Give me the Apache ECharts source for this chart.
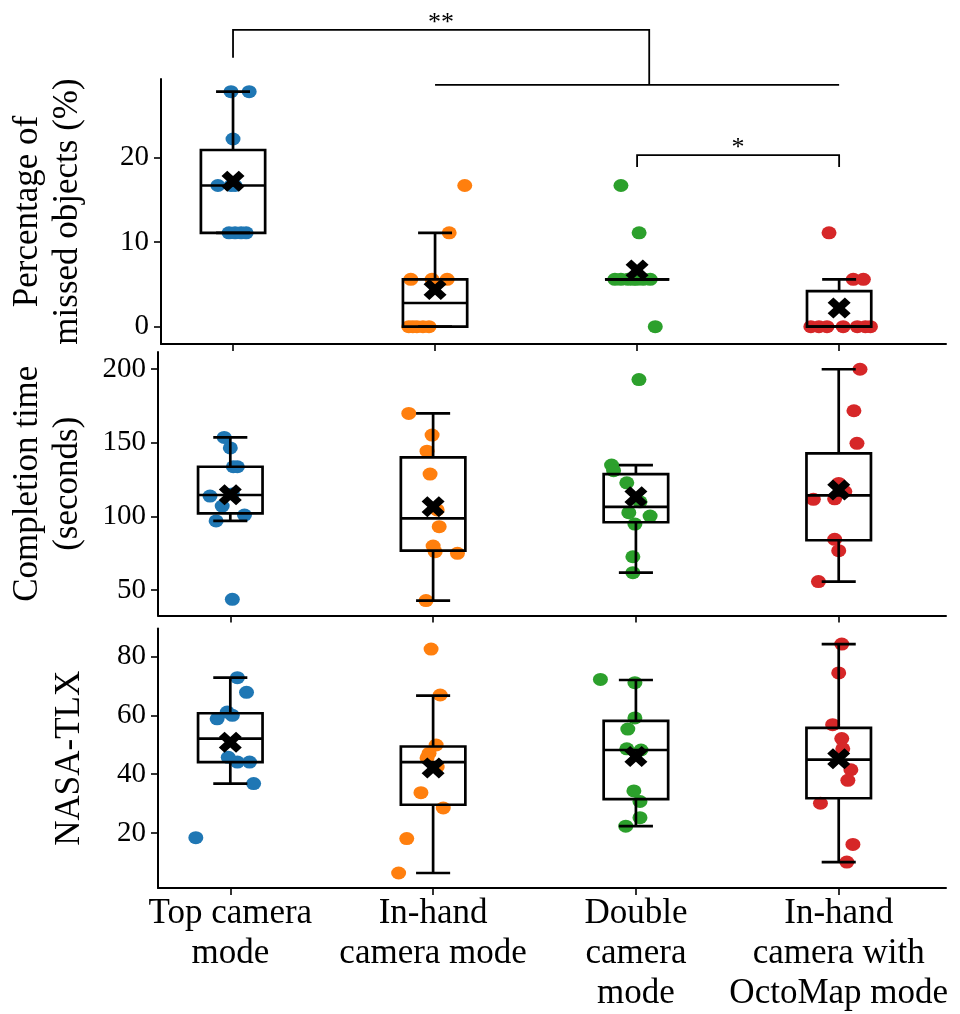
<!DOCTYPE html>
<html>
<head>
<meta charset="utf-8">
<script src="https://cdn.jsdelivr.net/npm/echarts@6/dist/echarts.min.js"></script>
<style>
  html, body { margin: 0; padding: 0; background: #fff; }
  #main { width: 960px; height: 1014px; }
</style>
</head>
<body>
<div id="main"></div>
<script>
// modes on the x axis
var categories = ['Top camera\nmode', 'In-hand\ncamera mode', 'Double\ncamera\nmode', 'In-hand\ncamera with\nOctoMap mode'];
var colors = ['#1f77b4', '#ff7f0e', '#2ca02c', '#d62728'];

// panel 1: percentage of missed objects (%)
var missedVals = [
  [27.8, 27.8, 22.2, 16.7, 16.7, 16.7, 11.1, 11.1, 11.1, 11.1],
  [16.7, 11.1, 5.6, 5.6, 5.6, 0, 0, 0, 0, 0],
  [16.7, 11.1, 5.6, 5.6, 5.6, 5.6, 5.6, 5.6, 5.6, 0],
  [11.1, 5.6, 5.6, 0, 0, 0, 0, 0, 0, 0]
];
var missedJitter = [
  [-0.01, 0.08, 0, -0.075, -0.01, 0.01, -0.02, 0.01, 0.04, 0.065],
  [0.147, 0.07, -0.12, -0.015, 0.06, -0.13, -0.11, -0.09, -0.06, -0.03],
  [-0.08, 0.01, -0.11, -0.08, -0.045, -0.02, 0, 0.03, 0.065, 0.09],
  [-0.05, 0.07, 0.12, -0.14, -0.1, -0.06, 0.02, 0.09, 0.13, 0.155]
];
// [lower whisker, Q1, median, Q3, upper whisker]
var missedBox = [
  [11.1, 11.1, 16.7, 20.9, 27.8],
  [0, 0, 2.8, 5.6, 11.1],
  [5.6, 5.6, 5.6, 5.6, 5.6],
  [0, 0, 0, 4.2, 5.6]
];
var missedMean = [17.2, 4.4, 6.7, 2.2];
var missedTicks = [0, 10, 20];

// panel 2: completion time (seconds)
var timeVals = [
  [153.7, 146.6, 133.8, 133.8, 113.9, 115.3, 107.1, 101, 97, 43.8],
  [170, 155.3, 144.4, 128.8, 104.5, 93.1, 80, 76.1, 75, 42.9],
  [193, 134.9, 131.1, 122.9, 110, 102.6, 100.3, 94.9, 72.7, 61.9],
  [200, 171.8, 149.7, 122.5, 117, 112, 111.7, 84.5, 76.8, 55.8]
];
var timeJitter = [
  [-0.03, 0, 0.015, 0.035, -0.1, 0.01, -0.04, 0.07, -0.07, 0.01],
  [-0.12, -0.005, -0.03, -0.015, 0.02, 0.03, 0, 0.01, 0.12, -0.035],
  [0.015, -0.12, -0.11, -0.045, 0.02, -0.035, 0.07, -0.005, -0.015, -0.015],
  [0.105, 0.075, 0.09, 0, 0.03, -0.02, -0.125, -0.02, 0, -0.1]
];
var timeBox = [
  [97, 102.2, 114.6, 133.8, 153.7],
  [42.9, 76.8, 98.8, 140.2, 170],
  [61.9, 96.1, 106.6, 128.8, 134.9],
  [55.8, 83.9, 114.4, 142.9, 200]
];
var timeMean = [114.8, 106.6, 113.4, 118];
var timeTicks = [50, 100, 150, 200];

// panel 3: NASA-TLX
var tlxVals = [
  [72.8, 67.8, 61.1, 60, 58.8, 45.7, 44.1, 44.1, 36.8, 18.4],
  [82.5, 66.9, 49.9, 47.1, 45.5, 42.4, 33.7, 28.5, 18.1, 6.4],
  [72.2, 71.1, 59.1, 55.3, 48.6, 48.2, 34.3, 30.7, 25.2, 22.3],
  [84.2, 74.4, 56.8, 52.1, 48.6, 41.5, 37.9, 30.1, 16.1, 10.1]
];
var tlxJitter = [
  [0.035, 0.08, -0.015, 0.01, -0.065, -0.01, 0.035, 0.095, 0.115, -0.17],
  [-0.01, 0.035, 0.015, -0.02, -0.03, 0.02, -0.06, 0.05, -0.13, -0.17],
  [-0.175, -0.005, -0.005, -0.04, -0.045, 0.025, -0.01, 0.02, 0.02, -0.05],
  [0.015, 0, -0.03, 0.015, 0.02, 0.06, 0.045, -0.09, 0.07, 0.04]
];
var tlxBox = [
  [36.8, 44.1, 52.1, 60.7, 72.8],
  [6.4, 29.6, 44.1, 49.4, 66.7],
  [22.3, 31.5, 48.2, 58.1, 72],
  [10.1, 31.8, 44.9, 55.7, 84.2]
];
var tlxMean = [50.8, 42.1, 46, 45.2];
var tlxTicks = [20, 40, 60, 80];

// significance brackets on panel 1: [x left, x right, y top, y left leg end, y right leg end, text]
var brackets = [
  [0, 2.06, 35.1, 31.8, 28.6, '**'],
  [1, 3, 28.6, 28.6, 28.6, ''],
  [2, 3, 20.3, 18.9, 18.9, '*']
];

var FONT = "'Liberation Serif', 'Times New Roman', serif";
var BOX_W = 0.318;
var CAP_W = 0.168;
// filled "X" like matplotlib's mean marker
var MEAN_SYMBOL = 'path://M2.5,0 L5,2.5 L7.5,0 L10,2.5 L7.5,5 L10,7.5 L7.5,10 L5,7.5 L2.5,10 L0,7.5 L2.5,5 L0,2.5 Z';

var chart = echarts.init(document.getElementById('main'), null, { renderer: 'canvas' });

var panels = [
  { vals: missedVals, jitter: missedJitter, box: missedBox, mean: missedMean, ticks: missedTicks,
    min: -2.05, max: 29.3, top: 79, height: 265, name: 'Percentage of\nmissed objects (%)', gap: 73 },
  { vals: timeVals, jitter: timeJitter, box: timeBox, mean: timeMean, ticks: timeTicks,
    min: 32.8, max: 211.7, top: 352, height: 263.5, name: 'Completion time\n(seconds)', gap: 70 },
  { vals: tlxVals, jitter: tlxJitter, box: tlxBox, mean: tlxMean, ticks: tlxTicks,
    min: 1.3, max: 89.5, top: 628.5, height: 263.3, name: 'NASA-TLX', gap: 68 }
];

function renderBox(params, api) {
  var x = api.value(0);
  var lo = api.coord([x, api.value(1)]);
  var q1 = api.coord([x, api.value(2)]);
  var md = api.coord([x, api.value(3)]);
  var q3 = api.coord([x, api.value(4)]);
  var hi = api.coord([x, api.value(5)]);
  var hb = api.size([BOX_W, 0])[0] / 2;
  var hc = api.size([CAP_W, 0])[0] / 2;
  var cx = lo[0];
  var st = { stroke: '#000', lineWidth: 2.7, fill: null };
  function line(x1, y1, x2, y2) {
    return { type: 'line', shape: { x1: x1, y1: y1, x2: x2, y2: y2 }, style: st };
  }
  return {
    type: 'group',
    children: [
      line(cx, q3[1], cx, hi[1]),
      line(cx, q1[1], cx, lo[1]),
      line(cx - hc, hi[1], cx + hc, hi[1]),
      line(cx - hc, lo[1], cx + hc, lo[1]),
      { type: 'rect', shape: { x: cx - hb, y: q3[1], width: 2 * hb, height: q1[1] - q3[1] }, style: st },
      line(cx - hb, md[1], cx + hb, md[1])
    ]
  };
}

function renderBracket(params, api) {
  var b = brackets[params.dataIndex];
  var tl = api.coord([b[0], b[2]]);
  var tr = api.coord([b[1], b[2]]);
  var l = api.coord([b[0], b[3]]);
  var r = api.coord([b[1], b[4]]);
  var children = [{
    type: 'polyline',
    shape: { points: [l, tl, tr, r] },
    style: { stroke: '#000', lineWidth: 1.8, fill: null }
  }];
  if (b[5]) {
    children.push({
      type: 'text',
      x: (tl[0] + tr[0]) / 2,
      y: tl[1] - 7,
      style: { text: b[5], font: '26px ' + FONT, fill: '#000', align: 'center', verticalAlign: 'middle' }
    });
  }
  return { type: 'group', children: children };
}

var grids = [], xAxes = [], yAxes = [], series = [];

panels.forEach(function (p, k) {
  grids.push({ left: 158, right: 14, top: p.top, height: p.height });
  xAxes.push({
    type: 'value', gridIndex: k, min: -0.3565, max: 3.529,
    splitLine: { show: false },
    axisLine: { show: true, onZero: false, lineStyle: { color: '#000', width: 2 } },
    axisTick: { show: true, length: 7, customValues: [0, 1, 2, 3], lineStyle: { color: '#000', width: 1.6 } },
    axisLabel: {
      show: k === 2, customValues: [0, 1, 2, 3], margin: 6,
      fontFamily: FONT, fontSize: 35, lineHeight: 40, color: '#000',
      formatter: function (v) { return categories[Math.round(v)]; }
    }
  });
  yAxes.push({
    type: 'value', gridIndex: k, min: p.min, max: p.max,
    name: p.name, nameLocation: 'middle', nameRotate: 90, nameGap: p.gap,
    nameTextStyle: { fontFamily: FONT, fontSize: 35, lineHeight: 40, color: '#000' },
    splitLine: { show: false },
    axisLine: { show: true, onZero: false, lineStyle: { color: '#000', width: 2 } },
    axisTick: { show: true, length: 7, customValues: p.ticks, lineStyle: { color: '#000', width: 1.6 } },
    axisLabel: { customValues: p.ticks, margin: 12, fontFamily: FONT, fontSize: 29, color: '#000' }
  });

  // jittered points
  p.vals.forEach(function (vals, i) {
    series.push({
      type: 'scatter', xAxisIndex: k, yAxisIndex: k, z: 2,
      symbol: 'circle', symbolSize: [15, 13],
      itemStyle: { color: colors[i], opacity: 1 },
      data: vals.map(function (v, j) { return [i + p.jitter[i][j], v]; })
    });
  });

  // boxes
  series.push({
    type: 'custom', xAxisIndex: k, yAxisIndex: k, z: 3,
    renderItem: renderBox,
    encode: { x: 0, y: [1, 2, 3, 4, 5] },
    data: p.box.map(function (b, i) { return [i].concat(b); })
  });

  // means
  series.push({
    type: 'scatter', xAxisIndex: k, yAxisIndex: k, z: 4,
    symbol: MEAN_SYMBOL, symbolSize: [23, 21],
    itemStyle: { color: '#000', opacity: 1 },
    data: p.mean.map(function (m, i) { return [i, m]; })
  });
});

series.push({
  type: 'custom', xAxisIndex: 0, yAxisIndex: 0, z: 5, clip: false,
  renderItem: renderBracket,
  data: brackets.map(function (b) { return [b[0], b[2]]; })
});

chart.setOption({
  animation: false,
  backgroundColor: '#fff',
  grid: grids,
  xAxis: xAxes,
  yAxis: yAxes,
  series: series
});
</script>
</body>
</html>
